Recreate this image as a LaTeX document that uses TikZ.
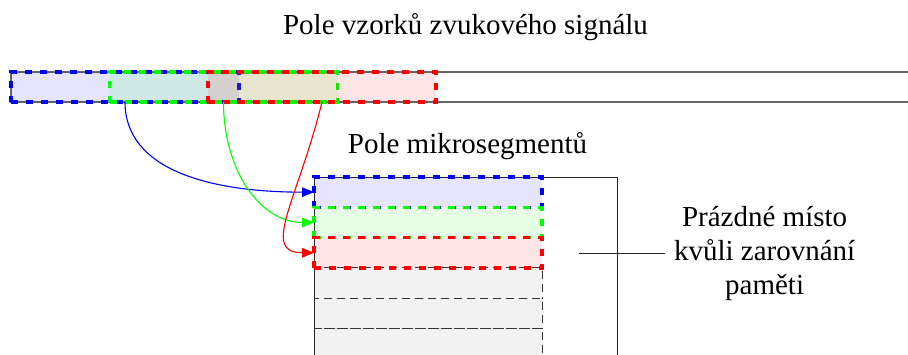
\documentclass[tikz,border=0pt]{standalone}
\usepackage{fontspec}
\setmainfont{Liberation Serif}
\usetikzlibrary{arrows.meta,calc}
\begin{document}
\begin{tikzpicture}[x=0.5pt,y=-0.5pt,
  txt/.style={font=\fontsize{14.5}{17}\selectfont, inner sep=0pt},
  segbox/.style={rectangle, minimum width=114pt, minimum height=15pt, inner sep=0pt, outer sep=0pt,
    line width=1.7pt, dash pattern=on 3.5pt off 4pt, fill opacity=0.1},
  rowbox/.style={rectangle, minimum width=114pt, minimum height=15.15pt, inner sep=0pt, outer sep=0pt},
  grayrow/.style={rowbox, fill=gray!10, draw=black!80, line width=0.5pt, dash pattern=on 4pt off 2.5pt},
  colrow/.style={rowbox, line width=1.7pt, dash pattern=on 3.5pt off 4pt, fill opacity=0.1},
  strip/.style={draw=black!60, line width=0.7pt},
  frame/.style={draw=black!85, line width=0.45pt},
  arr/.style={line width=0.55pt, -{Triangle[length=6pt,width=4.8pt]}}]
\clip (0,0) rectangle (908,354);
% top strip
\draw[strip] (910,72) -- (11,72) -- (11,102) -- (910,102);
\node[segbox, fill=blue, draw=blue] (s1) at (125,87) {};
\node[segbox, fill=green, draw=green] (s2) at (223.5,87) {};
\node[segbox, fill=red, draw=red] (s3) at (322,87) {};
% lower stack
\node[grayrow] (g1) at (428,283.05) {};
\node[grayrow] (g2) at (428,313.35) {};
\node[grayrow] (g3) at (428,343.65) {};
\draw[frame] (314,400) -- (314,177) -- (617,177) -- (617,400);
\node[colrow, fill=blue, draw=blue] (m1) at (428,192.15) {};
\node[colrow, fill=green, draw=green] (m2) at (428,222.45) {};
\node[colrow, fill=red, draw=red] (m3) at (428,252.75) {};
% arrows
\draw[arr, blue] (s1.south) .. controls ($(s1.south)+(0,68)$) and ($(m1.west)+(-104,0)$) .. (m1.west);
\draw[arr, green] (s2.south) .. controls ($(s2.south)+(0,68)$) and ($(m2.west)+(-54,0)$) .. (m2.west);
\draw[arr, red] (s3.south) .. controls ($(s3.south)+(-24,98)$) and ($(m3.west)+(-54,0)$) .. (m3.west);
% labels
\node[txt, anchor=base] (t1) at (465.5,34) {Pole vzorků zvukového signálu};
\node[txt, anchor=base] (t2) at (467.5,153) {Pole mikrosegmentů};
\node[txt, anchor=west, align=center, inner sep=4.3pt] (t3) at (665,253) {Prázdné místo\\kvůli zarovnání\\paměti};
\coordinate (tk) at (579,253);
\draw[frame] (tk) -- (t3.west);
\end{tikzpicture}
\end{document}
